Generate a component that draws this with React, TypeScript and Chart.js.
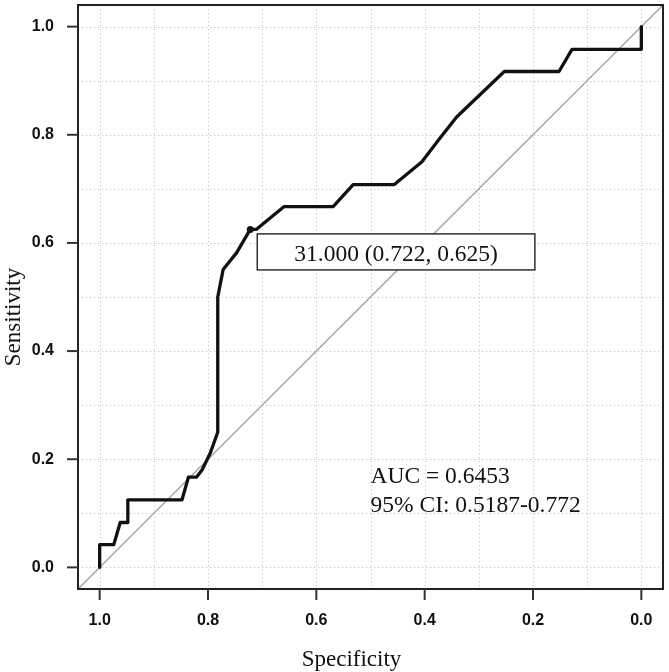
import React, { useEffect, useRef } from "react";
import { Chart, registerables } from "chart.js";

Chart.register(...registerables);

// ROC curve coordinates (specificity runs from 1 down to 0 along the x axis)
const specificity = [
  1.0, 1.0, 0.974, 0.962, 0.948, 0.948, 0.848, 0.836, 0.821, 0.811, 0.796,
  0.782, 0.782, 0.772, 0.747, 0.722, 0.711, 0.66, 0.569, 0.532, 0.456, 0.405,
  0.373, 0.341, 0.253, 0.152, 0.128, 0.0, 0.0,
];
const sensitivity = [
  0.0, 0.042, 0.042, 0.083, 0.083, 0.125, 0.125, 0.167, 0.167, 0.18, 0.211,
  0.25, 0.5, 0.551, 0.582, 0.625, 0.625, 0.667, 0.667, 0.708, 0.708, 0.75,
  0.792, 0.833, 0.917, 0.917, 0.958, 0.958, 1.0,
];

// Best threshold
const cutoffThreshold = "31.000";
const cutoffSpecificity = 0.722;
const cutoffSensitivity = 0.625;

const aucLines = ["AUC = 0.6453", "95% CI: 0.5187-0.772"];

const tickValues = [0, 0.2, 0.4, 0.6, 0.8, 1.0];
const gridValues = [0, 0.1, 0.2, 0.3, 0.4, 0.5, 0.6, 0.7, 0.8, 0.9, 1.0];

const axisMin = -0.04;
const axisMax = 1.04;

const xTitle = "Specificity";
const yTitle = "Sensitivity";

const SERIF = "'Liberation Serif', 'Times New Roman', serif";
const SANS = "'Liberation Sans', Arial, sans-serif";

const fmt = (v: number) => v.toFixed(3);

const rocDecor = {
  id: "rocDecor",
  beforeDatasetsDraw(chart: any) {
    const { ctx, chartArea: a, scales } = chart;
    const xs = scales.x;
    const ys = scales.y;
    ctx.save();
    ctx.strokeStyle = "#c4c4c4";
    ctx.lineWidth = 1;
    ctx.setLineDash([1.2, 2.8]);
    for (const v of gridValues) {
      const px = Math.round(xs.getPixelForValue(v)) + 0.5;
      ctx.beginPath();
      ctx.moveTo(px, a.top);
      ctx.lineTo(px, a.bottom);
      ctx.stroke();
      const py = Math.round(ys.getPixelForValue(v)) + 0.5;
      ctx.beginPath();
      ctx.moveTo(a.left, py);
      ctx.lineTo(a.right, py);
      ctx.stroke();
    }
    ctx.restore();
  },
  afterDatasetsDraw(chart: any) {
    const { ctx, chartArea: a, scales } = chart;
    const xs = scales.x;
    const ys = scales.y;
    ctx.save();

    // plot frame
    ctx.strokeStyle = "#222";
    ctx.lineWidth = 2;
    ctx.strokeRect(a.left, a.top, a.right - a.left, a.bottom - a.top);

    // tick marks
    ctx.strokeStyle = "#333";
    ctx.lineWidth = 2;
    for (const v of tickValues) {
      const px = xs.getPixelForValue(v);
      ctx.beginPath();
      ctx.moveTo(px, a.bottom);
      ctx.lineTo(px, a.bottom + 11);
      ctx.stroke();
      const py = ys.getPixelForValue(v);
      ctx.beginPath();
      ctx.moveTo(a.left, py);
      ctx.lineTo(a.left - 11, py);
      ctx.stroke();
    }

    // threshold label box
    const label = `${cutoffThreshold} (${fmt(cutoffSpecificity)}, ${fmt(cutoffSensitivity)})`;
    ctx.font = `23.5px ${SERIF}`;
    const tw = ctx.measureText(label).width;
    const bx = xs.getPixelForValue(cutoffSpecificity) + 7;
    const by = ys.getPixelForValue(cutoffSensitivity) + 4.5;
    const bw = tw + 74;
    const bh = 36;
    ctx.fillStyle = "#fff";
    ctx.fillRect(bx, by, bw, bh);
    ctx.strokeStyle = "#222";
    ctx.lineWidth = 1.4;
    ctx.strokeRect(bx, by, bw, bh);
    ctx.fillStyle = "#111";
    ctx.textAlign = "center";
    ctx.textBaseline = "alphabetic";
    ctx.fillText(label, bx + bw / 2, by + 27.5);

    // AUC annotation
    ctx.textAlign = "left";
    const ax = xs.getPixelForValue(0.5);
    const ay = ys.getPixelForValue(0.156);
    aucLines.forEach((line, i) => ctx.fillText(line, ax, ay + i * 28.5));

    // axis titles
    ctx.font = `23px ${SERIF}`;
    ctx.textAlign = "center";
    ctx.fillText(xTitle, (a.left + a.right) / 2 - 19, a.bottom + 77);
    ctx.save();
    ctx.translate(20, (a.top + a.bottom) / 2 + 20);
    ctx.rotate(-Math.PI / 2);
    ctx.fillText(yTitle, 0, 0);
    ctx.restore();

    ctx.restore();
  },
};

export default function App() {
  const canvasRef = useRef<HTMLCanvasElement | null>(null);

  useEffect(() => {
    const canvas = canvasRef.current;
    if (!canvas) return;

    const curve = specificity.map((s, i) => ({ x: s, y: sensitivity[i] }));

    const tickAxis = (padding: number) => ({
      type: "linear" as const,
      min: axisMin,
      max: axisMax,
      afterBuildTicks: (s: any) => {
        s.ticks = tickValues.map((v) => ({ value: v }));
      },
      grid: { display: false, drawTicks: false },
      border: { display: false },
      ticks: {
        padding,
        maxRotation: 0,
        color: "#111",
        font: { family: SANS, weight: "bold" as const, size: 16 },
        callback: (v: any) => Number(v).toFixed(1),
      },
    });

    const chart = new Chart(canvas, {
      type: "scatter",
      data: {
        datasets: [
          {
            label: "threshold",
            data: [{ x: cutoffSpecificity, y: cutoffSensitivity }],
            pointRadius: 3.5,
            pointBackgroundColor: "#111",
            pointBorderWidth: 0,
            showLine: false,
            order: 0,
          },
          {
            label: "ROC",
            data: curve,
            showLine: true,
            borderColor: "#111",
            borderWidth: 3.3,
            borderJoinStyle: "round",
            borderCapStyle: "round",
            pointRadius: 0,
            tension: 0,
            order: 1,
          },
          {
            label: "chance",
            data: [
              { x: axisMax, y: axisMin },
              { x: axisMin, y: axisMax },
            ],
            showLine: true,
            borderColor: "#a6a6a6",
            borderWidth: 1.5,
            pointRadius: 0,
            order: 2,
          },
        ],
      },
      options: {
        animation: false,
        responsive: false,
        layout: { padding: { top: 5, right: 6, left: 0, bottom: 0 } },
        plugins: {
          legend: { display: false },
          tooltip: { enabled: false },
        },
        scales: {
          x: {
            ...tickAxis(22),
            reverse: true,
            afterFit: (s: any) => {
              s.height = 83;
              s.paddingLeft = 0;
              s.paddingRight = 0;
            },
          },
          y: {
            ...tickAxis(24),
            afterFit: (s: any) => {
              s.width = 78;
              s.paddingTop = 0;
              s.paddingBottom = 0;
            },
          },
        },
      },
      plugins: [rocDecor],
    } as any);

    return () => chart.destroy();
  }, []);

  return (
    <div
      style={{
        position: "fixed",
        left: 0,
        top: 0,
        width: 669,
        height: 672,
        background: "#fff",
      }}
    >
      <canvas ref={canvasRef} width={669} height={672} />
    </div>
  );
}
